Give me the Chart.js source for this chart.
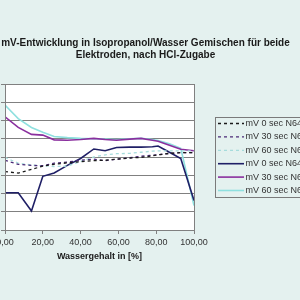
<!DOCTYPE html>
<html>
<head>
    <style>
        body {
            margin: 0;
            background-color: #e4f1ef; /* pale teal like the original sheet */
            overflow: hidden;
        }
        .wrap {
            position: relative;
            width: 300px;
            height: 300px;
            overflow: hidden;
        }
        /* canvas is wider and shifted left so the y labels fall outside the frame */
        #mvChart {
            position: absolute;
            left: -40px;
            top: 0;
        }
    </style>
    <script src="https://cdn.jsdelivr.net/npm/chart.js"></script>
</head>
<body>
    <div class="wrap">
        <canvas id="mvChart" width="340" height="300"></canvas>
    </div>
    <script>
        // Water content in % (x values)
        const wassergehalt = [0, 7, 14, 20, 26, 33, 40, 47, 53, 59, 66, 72, 78, 81, 87, 93, 100];

        // mV readings per series
        const mv0N64 = [160, 156, 166, 175, 180, 184, 187, 190, 191, 194, 197, 199, 203, 206, 210, 212, 212];
        const mv30N64 = [191, 180, 177, 176, 183, 186, 191, 194, 190, 194, 198, 202, 205, 206, 210, 212, 212];
        const mv60N64 = [199, 183, 178, 176, 174, 175, 188, 200, 206, 209, 210, 213, 216, 217, 217, 217, 217];
        const mv0N648 = [102, 102, 52, 147, 156, 177, 196, 222, 217, 226, 227, 227, 228, 230, 213, 196, 81];
        const mv30N648 = [310, 281, 262, 260, 247, 246, 248, 251, 248, 246, 249, 251, 246, 243, 232, 221, 217];
        const mv60N648 = [342, 305, 281, 268, 256, 253, 251, 250, 249, 248, 250, 251, 248, 245, 236, 224, 67];

        const seriesNames = ['mV 0 sec N64', 'mV 30 sec N64', 'mV 60 sec N64',
                             'mV 0 sec N648', 'mV 30 sec N648', 'mV 60 sec N648'];
        const xTicks = [0, 20, 40, 60, 80, 100];

        const titleLines = ['mV-Entwicklung in Isopropanol/Wasser Gemischen für beide',
                            'Elektroden, nach HCl-Zugabe'];

        const SHIFT = 40; // canvas offset to the left

        function pts(values) {
            return wassergehalt.map((x, i) => ({ x: x, y: values[i] }));
        }

        const styles = [
            { color: '#1a1a1a', dash: [3, 3], width: 1.3 },
            { color: '#4b2a78', dash: [3, 3], width: 1.3 },
            { color: '#a6dcdc', dash: [3, 3], width: 1.3 },
            { color: '#1f1f66', dash: [], width: 1.6 },
            { color: '#8a2f9e', dash: [], width: 1.6 },
            { color: '#8fe0df', dash: [], width: 1.6 }
        ];
        const allValues = [mv0N64, mv30N64, mv60N64, mv0N648, mv30N648, mv60N648];

        const datasets = allValues.map((vals, i) => ({
            label: seriesNames[i],
            data: pts(vals),
            borderColor: styles[i].color,
            borderDash: styles[i].dash,
            borderWidth: styles[i].width,
            pointRadius: 0,
            tension: 0,
            fill: false
        }));

        // white plot area, grey frame, title and the boxed legend
        const decor = {
            id: 'decor',
            beforeDraw(chart) {
                const a = chart.chartArea;
                const c = chart.ctx;
                c.save();
                c.fillStyle = '#ffffff';
                c.fillRect(a.left, a.top, a.right - a.left, a.bottom - a.top);
                c.restore();
            },
            afterDraw(chart) {
                const a = chart.chartArea;
                const c = chart.ctx;
                c.save();
                c.strokeStyle = '#808080';
                c.lineWidth = 1;
                c.strokeRect(a.left + 0.5, a.top + 0.5, a.right - a.left, a.bottom - a.top);

                // title
                c.fillStyle = '#1a1a1a';
                c.font = 'bold 10px "Liberation Sans", Arial, sans-serif';
                c.textAlign = 'center';
                c.textBaseline = 'middle';
                c.fillText(titleLines[0], 145.5 + SHIFT, 43.5);
                c.fillText(titleLines[1], 145.5 + SHIFT, 55.5);

                // legend box
                const lx = 215.5 + SHIFT;
                c.strokeStyle = '#7a7a7a';
                c.strokeRect(lx, 117.5, 120, 80);
                c.font = '9px "Liberation Sans", Arial, sans-serif';
                c.textAlign = 'left';
                chart.data.datasets.forEach((ds, i) => {
                    const y = 123.5 + i * 13.4;
                    c.beginPath();
                    c.setLineDash(ds.borderDash);
                    c.strokeStyle = ds.borderColor;
                    c.lineWidth = ds.borderWidth;
                    c.moveTo(218 + SHIFT, y);
                    c.lineTo(244 + SHIFT, y);
                    c.stroke();
                    c.setLineDash([]);
                    c.fillStyle = '#333333';
                    c.fillText(ds.label, 245.5 + SHIFT, y);
                });
                c.restore();
            }
        };

        const ctx = document.getElementById('mvChart').getContext('2d');
        new Chart(ctx, {
            type: 'line',
            data: { datasets: datasets },
            plugins: [decor],
            options: {
                responsive: false,
                animation: false,
                layout: { padding: { left: 0, right: 106, top: 84, bottom: 0 } },
                plugins: {
                    legend: { display: false },
                    title: { display: false },
                    tooltip: { enabled: false }
                },
                scales: {
                    x: {
                        type: 'linear',
                        min: 0,
                        max: 100,
                        afterBuildTicks: (scale) => { scale.ticks = xTicks.map(v => ({ value: v })); },
                        afterFit: (scale) => { scale.height = 70; },
                        ticks: {
                            color: '#333333',
                            font: { size: 9, family: '"Liberation Sans", Arial, sans-serif' },
                            padding: 3,
                            maxRotation: 0,
                            callback: (v) => v.toFixed(2).replace('.', ',')
                        },
                        grid: { drawOnChartArea: false, drawTicks: true, tickLength: 4, color: '#808080' },
                        border: { display: false },
                        title: {
                            display: true,
                            text: 'Wassergehalt in [%]',
                            color: '#1a1a1a',
                            font: { size: 9, weight: 'bold', family: '"Liberation Sans", Arial, sans-serif' },
                            padding: { top: 0, bottom: 38 }
                        }
                    },
                    y: {
                        min: 0,
                        max: 400,
                        afterFit: (scale) => { scale.width = 45; },
                        ticks: {
                            stepSize: 50,
                            color: '#333333',
                            font: { size: 9 },
                            callback: (v) => v.toFixed(2).replace('.', ',')
                        },
                        grid: { color: '#808080', lineWidth: 1, drawTicks: true, tickLength: 4 },
                        border: { display: false }
                    }
                }
            }
        });
    </script>
</body>
</html>
